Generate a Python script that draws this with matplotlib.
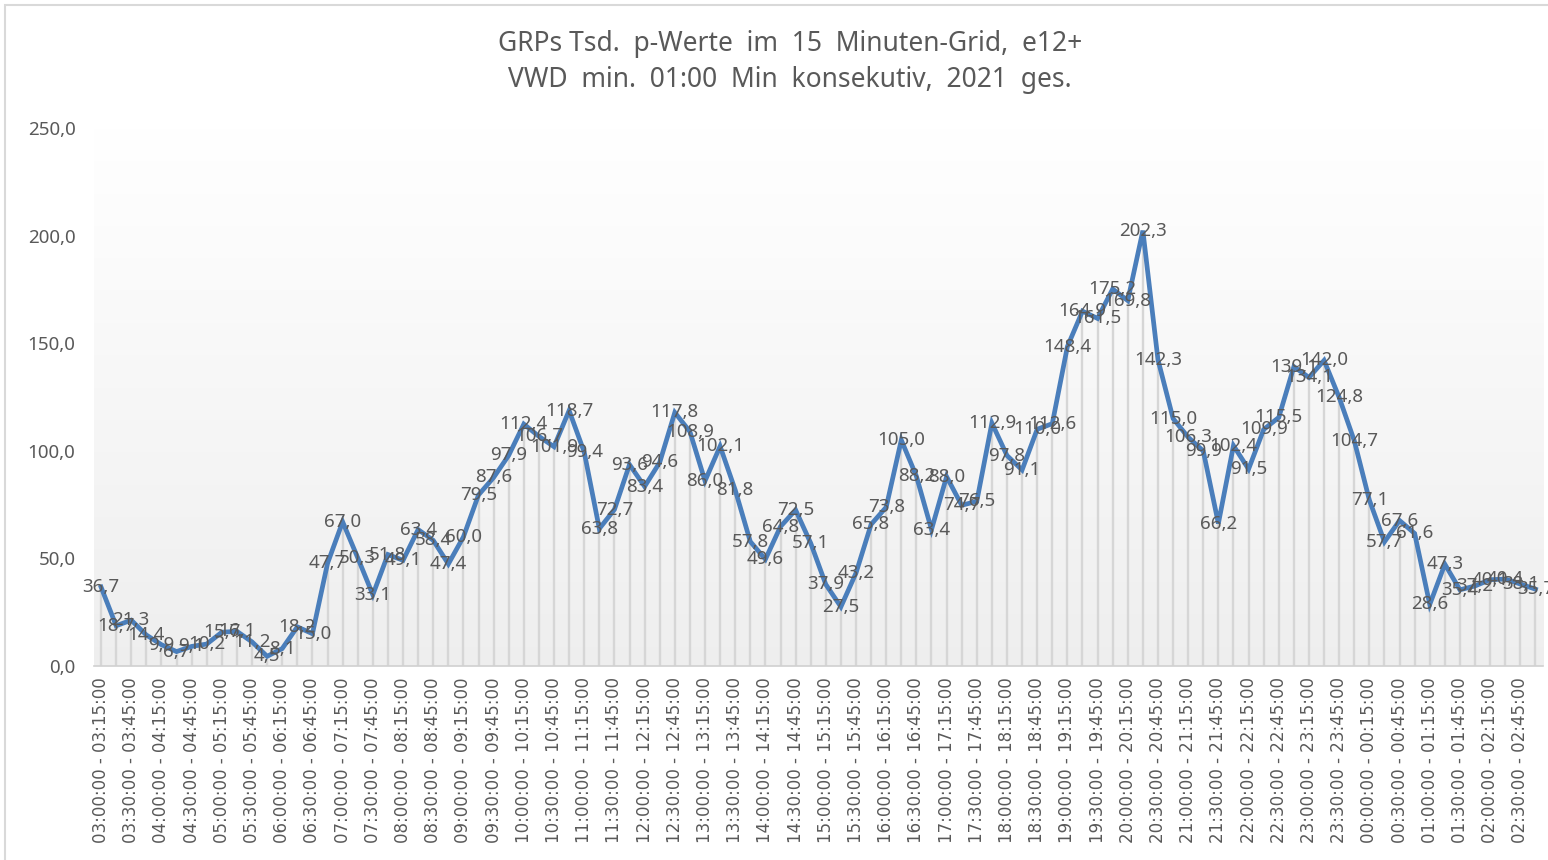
import numpy as np
import matplotlib
matplotlib.use("Agg")
import matplotlib.pyplot as plt
from matplotlib.patches import Rectangle

# GRPs in Tsd. per 15-minute slot, starting 03:00
start_times = [f"{(3 + i // 4) % 24:02d}:{(i % 4) * 15:02d}:00" for i in range(96)]
end_times = start_times[1:] + start_times[:1]
slot_labels = [f"{a} - {b}" for a, b in zip(start_times, end_times)]

grp_values = [36.7, 18.7, 21.3, 14.4, 9.9, 6.7, 9.1, 10.2, 15.7, 16.1, 11.2, 4.5,
              8.1, 18.2, 15.0, 47.7, 67.0, 50.3, 33.1, 51.8, 49.1, 63.4, 58.4, 47.4,
              60.0, 79.5, 87.6, 97.9, 112.4, 106.7, 101.9, 118.7, 99.4, 63.8, 72.7, 93.6,
              83.4, 94.6, 117.8, 108.9, 86.0, 102.1, 81.8, 57.8, 49.6, 64.8, 72.5, 57.1,
              37.9, 27.5, 43.2, 65.8, 73.8, 105.0, 88.2, 63.4, 88.0, 74.7, 76.5, 112.9,
              97.8, 91.1, 110.0, 112.6, 148.4, 164.9, 161.5, 175.2, 169.8, 202.3, 142.3, 115.0,
              106.3, 99.9, 66.2, 102.4, 91.5, 109.9, 115.5, 139.1, 134.1, 142.0, 124.8, 104.7,
              77.1, 57.7, 67.6, 61.6, 28.6, 47.3, 35.4, 37.2, 40.1, 40.4, 38.1, 35.7]

y_ticks = [0, 50, 100, 150, 200, 250]
title = "GRPs Tsd.  p-Werte  im  15  Minuten-Grid,  e12+\nVWD  min.  01:00  Min  konsekutiv,  2021  ges."

plt.rcParams['font.family'] = ['Noto Sans', 'DejaVu Sans']
grey = "#595959"

fig = plt.figure(figsize=(15.48, 8.6), dpi=100)
W, H = 1548, 860
ax = fig.add_axes([93.5 / W, 1 - 666 / H, (1543 - 93.5) / W, (666 - 128) / H])

x = np.arange(len(grp_values))

# gradient background of plot area
grad = np.linspace(1.0, 0.935, 256).reshape(-1, 1)
ax.imshow(np.dstack([grad, grad, grad]), extent=[-0.5, len(x) - 0.5, 0, 250],
          aspect="auto", zorder=0, origin="upper")

ax.vlines(x, 0, grp_values, color="#d6d6d6", lw=1.7, zorder=1)
ax.plot(x, grp_values, color="#4a7ebb", lw=3.4, zorder=3, solid_joinstyle="miter")

for xi, v in zip(x, grp_values):
    ax.text(xi, v, f"{v:.1f}".replace(".", ","), ha="center", va="center",
            fontsize=13.5, color=grey, zorder=4, clip_on=False)

ax.set_xlim(-0.5, len(x) - 0.5)
ax.set_ylim(0, 250)
ax.set_yticks(y_ticks)
ax.set_yticklabels([f"{t:.1f}".replace(".", ",") for t in y_ticks], fontsize=13.5, color=grey)
ax.set_xticks(x[::2])
ax.set_xticklabels(slot_labels[::2], rotation=90, fontsize=12, color=grey,
                   family=['DejaVu Sans'])
ax.tick_params(axis="y", length=0, pad=13)
ax.tick_params(axis="x", length=0, pad=8)
for s in ["top", "right", "left"]:
    ax.spines[s].set_visible(False)
ax.spines["bottom"].set_color("#d0d0d0")
ax.spines["bottom"].set_linewidth(1.2)

fig.text(790 / W, 1 - 62 / H, title, ha="center", va="center", fontsize=19,
         color=grey, linespacing=1.35)

# chart area border (cropped)
fig.patches.append(Rectangle((5 / W, -0.1), 1.2, 1 - 5 / H + 0.1, transform=fig.transFigure,
                             fill=False, edgecolor="#d9d9d9", lw=1.5))

fig.savefig("out.png", dpi=100)
